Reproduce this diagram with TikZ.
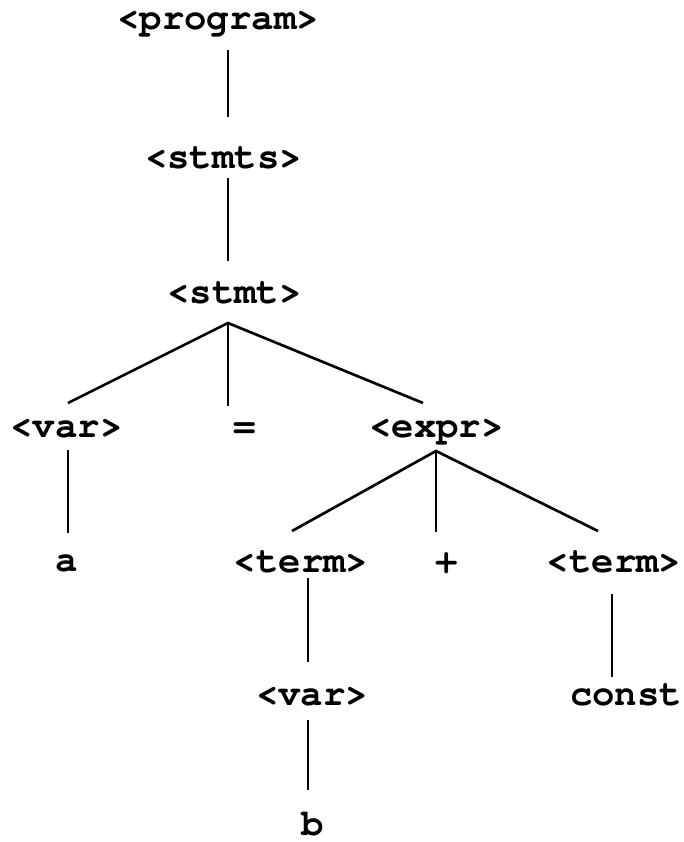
\documentclass[tikz,border=0pt]{standalone}
\usepackage{fontspec}
\setmonofont{texgyrecursor}[Extension=.otf,UprightFont=*-regular,BoldFont=*-bold]
\begin{document}
\begin{tikzpicture}[x=0.75pt,y=-0.75pt,
  lbl/.style={anchor=base,inner sep=0pt,font=\ttfamily\bfseries\fontsize{28}{33}\selectfont},
  edge/.style={line width=2pt,line cap=butt}]
\useasboundingbox (0,0) rectangle (684,842);
% labels
\node[lbl] (program) at (218,30) {<program>};
\node[lbl] (stmts) at (223.5,168) {<stmts>};
\node[lbl] (stmt) at (234.5,303) {<stmt>};
\node[lbl] (var1) at (66.5,437) {<var>};
\node[lbl] (eq) at (245,437) {=};
\node[lbl] (expr) at (436.5,437) {<expr>};
\node[lbl] (a) at (66.5,571) {a};
\node[lbl] (term1) at (301,572) {<term>};
\node[lbl] (plus) at (447,572) {+};
\node[lbl] (term2) at (614,572) {<term>};
\node[lbl] (var2) at (312,705) {<var>};
\node[lbl] (const) at (626,705) {const};
\node[lbl] (b) at (312.5,835) {b};
% connector end points
\coordinate (programB) at (228,50);
\coordinate (stmtsT) at (228,117);
\coordinate (stmtsB) at (228,178);
\coordinate (stmtT) at (228,261);
\coordinate (stmtB) at (228,323);
\coordinate (var1T) at (68,403);
\coordinate (eqT) at (228,406);
\coordinate (exprT) at (423,403);
\coordinate (var1B) at (68,450);
\coordinate (aT) at (68,533);
\coordinate (exprB) at (436,451);
\coordinate (term1T) at (292,531);
\coordinate (plusT) at (436,532);
\coordinate (term2T) at (598,531);
\coordinate (term1B) at (308,578);
\coordinate (var2T) at (308,662);
\coordinate (term2B) at (612,594);
\coordinate (constT) at (612,677);
\coordinate (var2B) at (308,720);
\coordinate (bT) at (308,790);
% connectors
\draw[edge] (programB) -- (stmtsT);
\draw[edge] (stmtsB) -- (stmtT);
\draw[edge] (var1T) -- (stmtB) -- (exprT);
\draw[edge] (stmtB) -- (eqT);
\draw[edge] (var1B) -- (aT);
\draw[edge] (term1T) -- (exprB) -- (term2T);
\draw[edge] (exprB) -- (plusT);
\draw[edge] (term1B) -- (var2T);
\draw[edge] (term2B) -- (constT);
\draw[edge] (var2B) -- (bT);
\end{tikzpicture}
\end{document}
